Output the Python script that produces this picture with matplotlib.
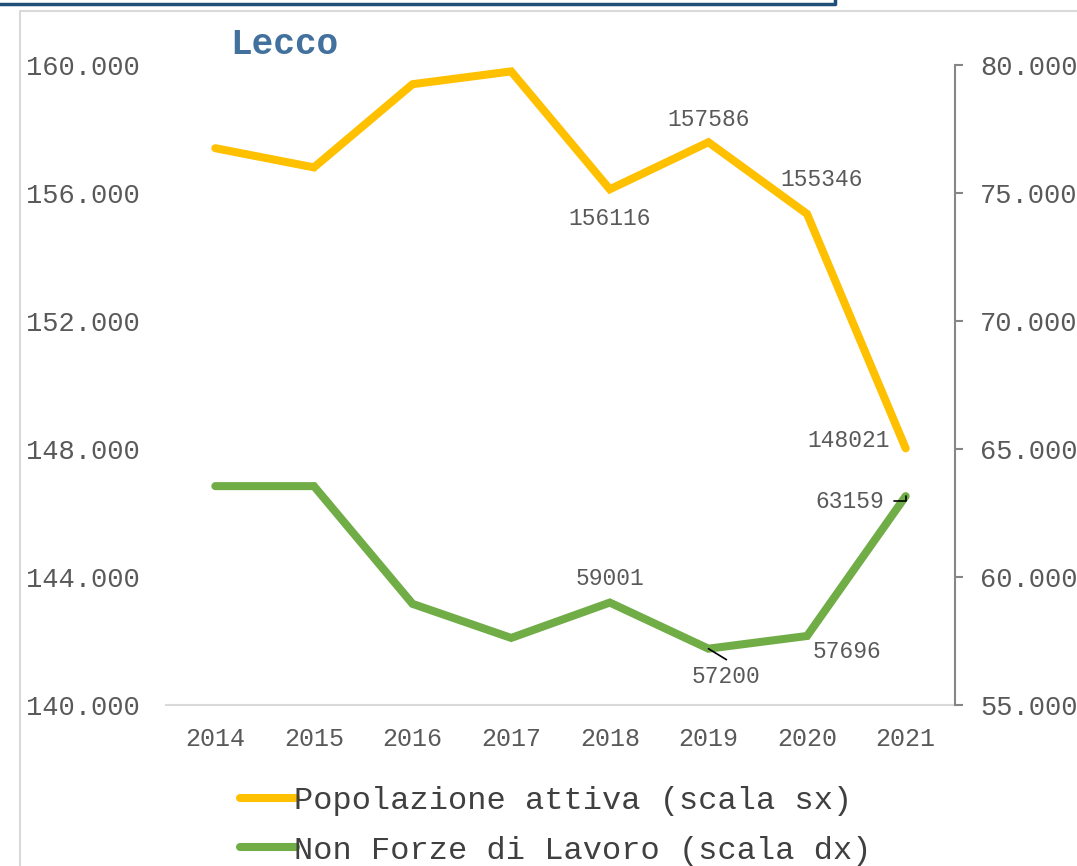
import matplotlib
matplotlib.use('Agg')
import matplotlib.pyplot as plt
from matplotlib.lines import Line2D

anni = ['2014', '2015', '2016', '2017', '2018', '2019', '2020', '2021']
pop_attiva = [157400, 156800, 159400, 159800, 156116, 157586, 155346, 148021]
non_forze = [63550, 63550, 58950, 57620, 59001, 57200, 57696, 63159]

# etichette visibili: indice -> offset in pixel (dx, dy), allineamento
lab_pop = {4: (0, -29, 'center'), 5: (0, 23, 'center'), 6: (15, 34, 'center'), 7: (-16, 8, 'right')}
lab_nfl = {4: (0, 24, 'center'), 5: (18, -28, 'center'), 6: (40, -16, 'center'), 7: (-22, -5, 'right')}

GIALLO = '#FFC000'
VERDE = '#70AD47'
TESTO = '#595959'
FONT = 'Liberation Mono'

plt.rcParams['font.family'] = FONT

fig = plt.figure(figsize=(10.77, 8.66), dpi=100)
ax = fig.add_axes([166/1077, 1-705/866, 789/1077, 640/866])
ax2 = ax.twinx()

x = list(range(len(anni)))
ax.plot(x, pop_attiva, color=GIALLO, lw=5.8, solid_capstyle='round', solid_joinstyle='miter')
ax2.plot(x, non_forze, color=VERDE, lw=5.8, solid_capstyle='round', solid_joinstyle='miter')

ax.set_xlim(-0.5, 7.5)
ax.set_ylim(140000, 160000)
ax2.set_ylim(55000, 80000)
ax.set_yticks(range(140000, 160001, 4000))
ax2.set_yticks(range(55000, 80001, 5000))

fmt = lambda v: f'{v:,.0f}'.replace(',', '.')
ax.set_yticklabels([fmt(v) for v in range(140000, 160001, 4000)])
ax2.set_yticklabels([fmt(v) for v in range(55000, 80001, 5000)])
ax.set_xticks(x)
ax.set_xticklabels(anni)

for a in (ax, ax2):
    for s in a.spines.values():
        s.set_visible(False)
ax.spines['bottom'].set_visible(True)
ax.spines['bottom'].set_color('#D9D9D9')
ax.spines['bottom'].set_linewidth(1.5)
ax2.spines['right'].set_visible(True)
ax2.spines['right'].set_color('#868686')
ax2.spines['right'].set_linewidth(1.5)

ax.tick_params(axis='y', length=0, pad=19, labelsize=19.5, labelcolor=TESTO)
ax.tick_params(axis='x', length=0, pad=16, labelsize=18, labelcolor=TESTO)
ax2.tick_params(axis='y', length=6, width=1.5, color='#868686', pad=12,
                labelsize=19.5, labelcolor=TESTO)

for i, (dx, dy, ha) in lab_pop.items():
    ax.annotate(str(pop_attiva[i]), (i, pop_attiva[i]), xytext=(dx, dy),
                textcoords='offset pixels', ha=ha, va='center',
                fontsize=16.5, color=TESTO)
for i, (dx, dy, ha) in lab_nfl.items():
    ax2.annotate(str(non_forze[i]), (i, non_forze[i]), xytext=(dx, dy),
                 textcoords='offset pixels', ha=ha, va='center',
                 fontsize=16.5, color=TESTO)

# linee di richiamo delle etichette
ax2.annotate('', (5, non_forze[5]), xytext=(18, -11), textcoords='offset pixels',
             arrowprops=dict(arrowstyle='-', color='black', lw=1.2, shrinkA=0, shrinkB=0))
ax2.annotate('', (7, non_forze[7]), xytext=(-12, -5), textcoords='offset pixels',
             arrowprops=dict(arrowstyle='-', color='black', lw=1.2, shrinkA=0, shrinkB=0,
                             connectionstyle='angle,angleA=0,angleB=90,rad=0'))

fig.text(230/1077, 1-44/866, 'Lecco', fontsize=26, fontweight='bold',
         color='#41719C', va='center', ha='left')

handles = [Line2D([], [], color=GIALLO, lw=5.8, solid_capstyle='round'),
           Line2D([], [], color=VERDE, lw=5.8, solid_capstyle='round')]
fig.legend(handles, ['Popolazione attiva (scala sx)', 'Non Forze di Lavoro (scala dx)'],
           loc='center left', bbox_to_anchor=(240/1077, 1-826/866), frameon=False,
           fontsize=23, labelcolor='#404040', handlelength=1.75, handletextpad=-0.05,
           borderpad=0, borderaxespad=0, labelspacing=0.6)

# cornice del grafico e bordo del riquadro superiore
fig.add_artist(Line2D([20/1077, 20/1077, 1], [0, 1-11/866, 1-11/866],
                      transform=fig.transFigure, color='#D9D9D9', lw=1.5))
fig.add_artist(Line2D([0, 835/1077, 835/1077], [1-4/866, 1-4/866, 1],
                      transform=fig.transFigure, color='#1F4E79', lw=2.5))

fig.savefig('out.png', dpi=100)
